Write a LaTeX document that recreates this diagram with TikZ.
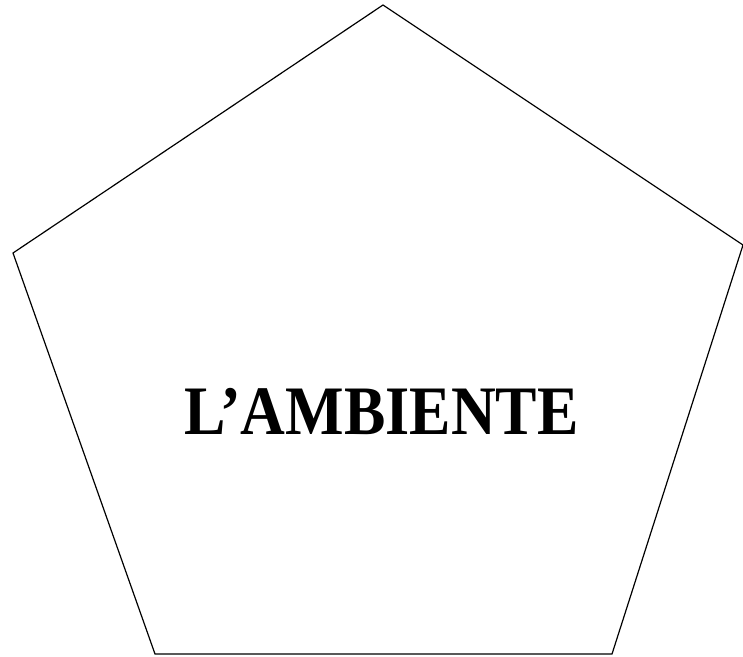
\documentclass[tikz,border=0pt]{standalone}
\usepackage{fontspec}
\setmainfont{Liberation Serif}
\usetikzlibrary{positioning}

\begin{document}
\begin{tikzpicture}[x=1pt,y=1pt]
  \useasboundingbox (0,0) rectangle (743,656);
  % corners of the pentagon
  \coordinate (top)   at (383,651);
  \coordinate (left)  at (13,403);
  \coordinate (right) at (743,411);
  \coordinate (botR)  at (612,2);
  \coordinate (botL)  at (155,2);
  \draw[line width=1.2pt,line join=miter] (top) -- (right) -- (botR) -- (botL) -- (left) -- cycle;
  \node[anchor=base,inner sep=0pt,font=\bfseries\fontsize{62}{62}\selectfont,yscale=1.12]
    (ambiente) at (381.5,222) {L’AMBIENTE};
\end{tikzpicture}
\end{document}
